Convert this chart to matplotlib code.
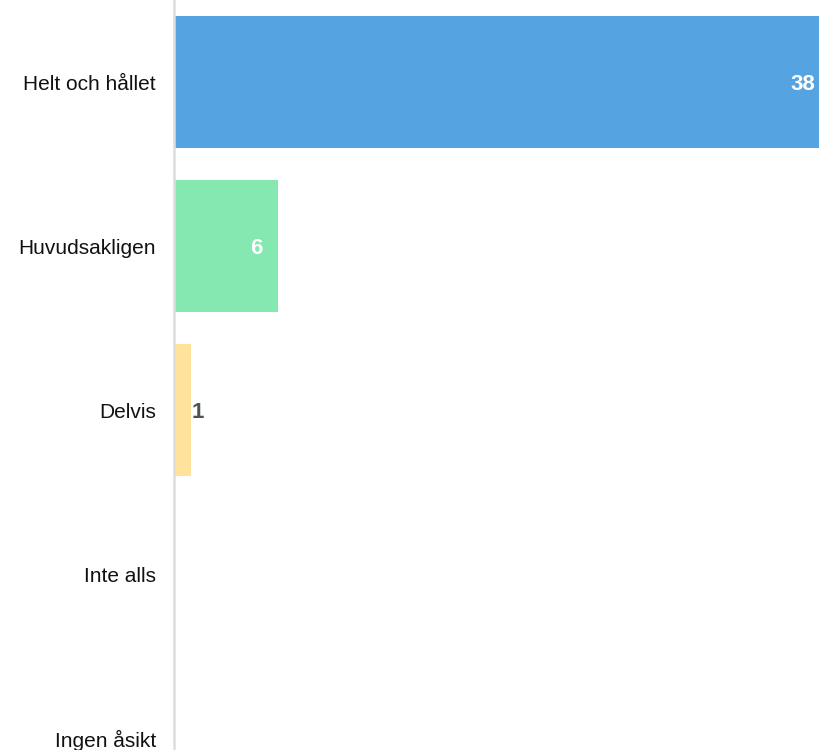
import numpy as np
import matplotlib.pyplot as plt

plt.rcParams['font.family'] = ['Liberation Sans', 'DejaVu Sans']

categories = ['Helt och hållet', 'Huvudsakligen', 'Delvis', 'Inte alls', 'Ingen åsikt']
values = [38, 6, 1, 0, 0]
colors = ['#55a3e1', '#86e8b1', '#ffe39d', '#f28f8f', '#b9b9b9']

fig = plt.figure(figsize=(8.2, 7.5), dpi=100)
ax = fig.add_axes([174 / 820, 0, 1 - 174 / 820, 1])

y = np.arange(len(categories))
bars = ax.barh(y, values, height=0.8, color=colors)

# bottom category is cut off by the lower edge
ax.set_ylim(-0.5 + 750 / 164, -0.5)
ax.set_xlim(0, 37.42)

for b, v in zip(bars, values):
    if v == 0:
        continue
    cy = b.get_y() + b.get_height() / 2
    if v >= 3:
        ax.annotate(str(v), (v, cy), xytext=(-11, 0), textcoords='offset points',
                    ha='right', va='center_baseline', color='white', fontsize=16,
                    fontweight='bold', annotation_clip=False)
    else:
        ax.annotate(str(v), (v, cy), xytext=(0, 0), textcoords='offset points',
                    ha='left', va='center_baseline', color='#4a5358', fontsize=16,
                    fontweight='bold')

ax.set_yticks(y)
ax.set_yticklabels(categories, fontsize=15, color='#111111')
ax.tick_params(axis='y', length=0, pad=13)
ax.set_xticks([])
for s in ['top', 'right', 'bottom']:
    ax.spines[s].set_visible(False)
ax.spines['left'].set_color('#dddddd')
ax.spines['left'].set_linewidth(1.8)

fig.savefig('out.png', dpi=100)
